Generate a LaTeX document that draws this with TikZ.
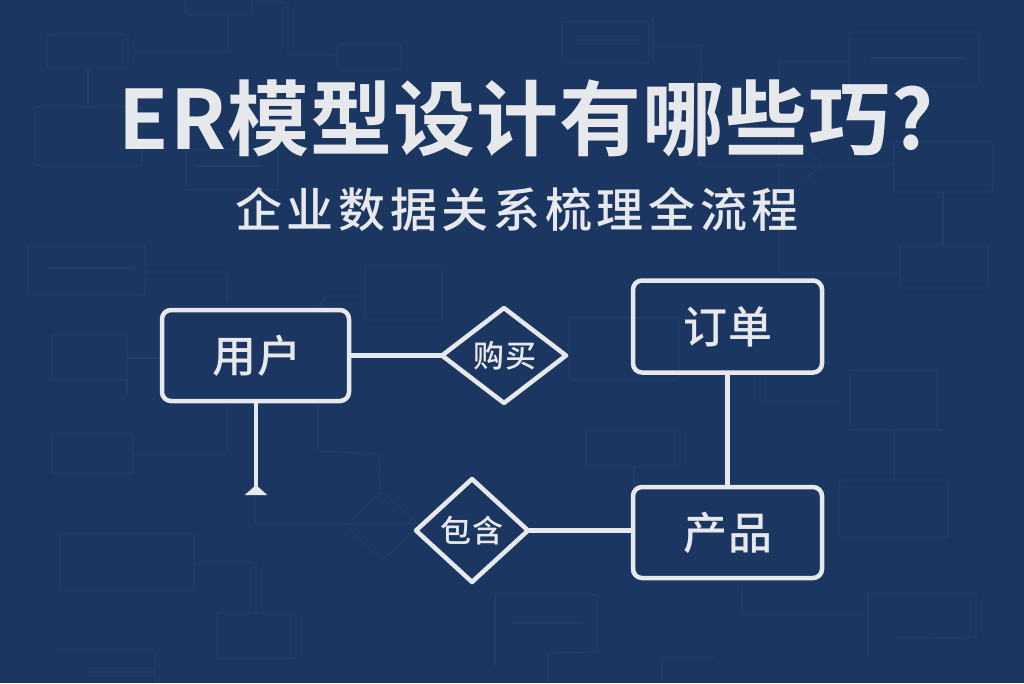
\documentclass[tikz,border=0pt]{standalone}
\usepackage{fontspec}
\usetikzlibrary{shapes.geometric,arrows.meta}
\newfontfamily\cjkbold[LetterSpace=1.2]{Noto Sans CJK SC Bold}
\newfontfamily\cjklabel[LetterSpace=3]{Noto Sans CJK SC Medium}
\newfontfamily\cjksub[LetterSpace=10]{Noto Sans CJK SC Medium}
\definecolor{bgblue}{HTML}{1B3761}
\definecolor{faintline}{HTML}{213D69}
\definecolor{inkwhite}{HTML}{E6E8EC}
\tikzset{
  faint/.style={draw=faintline,line width=1.1pt,rounded corners=2pt},
  entity/.style={draw=inkwhite,line width=4.5pt,rounded corners=9pt,outer sep=0pt,text=inkwhite,inner sep=0pt,
    font=\cjklabel\fontsize{44}{44}\selectfont},
  relation/.style={shape=diamond,draw=inkwhite,line width=4.5pt,line join=round,outer sep=0pt,inner sep=0pt,text=inkwhite,
    font=\cjklabel\fontsize{31}{31}\selectfont},
  link/.style={draw=inkwhite,line width=4.5pt},
  titletext/.style={text=inkwhite,inner sep=0pt,anchor=base,font=\cjkbold\fontsize{82}{82}\selectfont},
  subtext/.style={text=inkwhite,inner sep=0pt,anchor=base,font=\cjksub\fontsize{47}{47}\selectfont}
}
\begin{document}
\begin{tikzpicture}[x=1pt,y=-1pt]
\useasboundingbox (0,0) rectangle (1024,683);
\fill[bgblue] (0,0) rectangle (1024,683);
% faint background
\draw[faint] (47,35) rectangle (128,68);
\draw[faint] (185,-2) rectangle (252,15);
\draw[faint] (228,15) -- (228,52) -- (135,52);
\draw[faint] (255,3) -- (288,3) -- (288,55) -- (335,55);
\draw[faint] (337,44) rectangle (401,69);
\draw[faint] (88,68) -- (88,105);
\draw[faint] (35,107) rectangle (142,165);
\draw[faint] (186,150) rectangle (278,190);
\draw[faint] (195,166) -- (263,166);
\draw[faint] (28,245) rectangle (145,295);
\draw[faint] (48,268) -- (135,268);
\draw[faint] (145,272) -- (227,272) -- (227,300);
\draw[faint] (365,267) rectangle (442,320);
\draw[faint] (365,296) -- (325,296) -- (318,310);
\draw[faint] (562,22) rectangle (649,63);
\draw[faint] (575,40) -- (640,40);
\draw[faint] (653,17) -- (653,60);
\draw[faint] (653,45) -- (700,45) -- (702,85);
\draw[faint] (849,32) rectangle (979,87);
\draw[faint] (870,58) -- (965,58);
\draw[faint] (849,62) -- (779,62) -- (779,273) -- (899,273);
\draw[faint] (894,142) rectangle (993,192);
\draw[faint] (943,192) -- (943,245);
\draw[faint] (900,245) rectangle (988,288);
\draw[faint] (700,150) -- (700,165) -- (895,165);
\draw[faint] (805,150) -- (823,164) -- (805,180);
\draw[faint] (52,335) rectangle (127,380);
\draw[faint] (127,358) -- (160,358);
\draw[faint] (127,380) -- (127,395);
\draw[faint] (52,433) rectangle (133,473);
\draw[faint] (133,455) -- (227,455) -- (227,405);
\draw[faint] (318,405) -- (318,451) -- (379,454) -- (380,490);
\draw[faint] (345,525) -- (382,492) -- (420,525) -- (382,560) -- cycle;
\draw[faint] (255,495) -- (255,524) -- (420,524);
\draw[faint] (60,534) rectangle (194,591);
\draw[faint] (194,563) -- (256,563) -- (256,612);
\draw[faint] (217,613) rectangle (296,658);
\draw[faint] (55,649) -- (155,649) -- (155,683);
\draw[faint] (88,672) -- (155,672);
\draw[faint] (569,318) rectangle (679,380);
\draw[faint] (586,429) rectangle (680,467);
\draw[faint] (634,467) -- (634,485);
\draw[faint] (760,375) -- (760,401) -- (842,401);
\draw[faint] (850,370) rectangle (937,430);
\draw[faint] (937,430) -- (943,430);
\draw[faint] (894,430) -- (894,480);
\draw[faint] (839,480) rectangle (948,537);
\draw[faint] (742,585) -- (742,615) -- (865,615);
\draw[faint] (868,593) -- (976,593) -- (976,637) -- (895,638);
\draw[faint] (868,593) -- (868,655);
\draw[faint] (495,595) -- (597,595) -- (597,652) -- (548,653) -- (548,683);
\draw[faint] (495,595) -- (495,665);
\draw[faint] (512,623) -- (580,623);
\draw[faint] (662,683) -- (662,657) -- (715,657);
% titles
\node[titletext] (title) at (526,149) {ER模型设计有哪些巧?};
\node[subtext] (subtitle) at (517,227) {企业数据关系梳理全流程};
% nodes
\node[entity,minimum width=187pt,minimum height=91pt] (user) at (255.5,355.5) {\hspace*{3pt}用户};
\node[entity,minimum width=189pt,minimum height=92pt] (order) at (727.5,326.5) {\hspace*{1pt}订单};
\node[entity,minimum width=189pt,minimum height=91pt] (product) at (727.5,532.5) {\hspace*{1pt}产品};
\node[relation,minimum width=124pt,minimum height=95pt] (buy) at (504,355.5) {\hspace*{2pt}购买};
\node[relation,minimum width=112pt,minimum height=103pt] (contain) at (472,530.5) {包含};
\coordinate (userend) at (256,495);
% connectors
\draw[link] (user.east) -- (buy.west);
\draw[link,-{Triangle[reversed,width=22pt,length=10pt]}] (user.south -| userend) -- (userend);
\draw[link] (order.south) -- (product.north);
\draw[link] (contain.east) -- (contain.east -| product.west);
\end{tikzpicture}
\end{document}
